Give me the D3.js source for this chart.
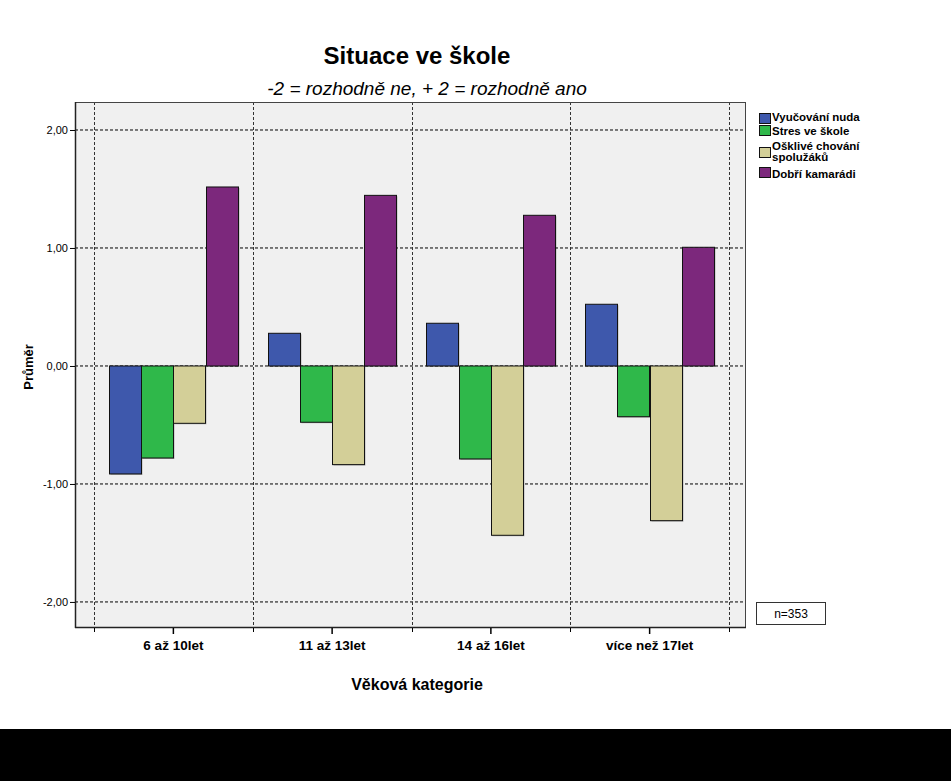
<!DOCTYPE html>
<html><head><meta charset="utf-8">
<script src="https://cdn.jsdelivr.net/npm/d3@7"></script>
<style>body{margin:0;background:#fff;}svg{display:block;font-family:"Liberation Sans",Arial,sans-serif;}</style>
</head><body>
<script>
const categories = ["6 až 10let", "11 až 13let", "14 až 16let", "více než 17let"];
const seriesNames = ["Vyučování nuda", "Stres ve škole", "Ošklivé chování spolužáků", "Dobří kamarádi"];
const legendLabels = [["Vyučování nuda"], ["Stres ve škole"], ["Ošklivé chování", "spolužáků"], ["Dobří kamarádi"]];
const vyucovaniNuda = [-0.915, 0.277, 0.362, 0.523];
const stresVeSkole = [-0.78, -0.477, -0.788, -0.43];
const osklivеChovani = [-0.486, -0.836, -1.435, -1.311];
const dobriKamaradi = [1.517, 1.446, 1.277, 1.006];
const seriesValues = [vyucovaniNuda, stresVeSkole, osklivеChovani, dobriKamaradi];
const colors = ["#3e58ac", "#2fb84a", "#d3cf98", "#7c287c"];
const yTicks = [-2, -1, 0, 1, 2];

const W = 951, H = 781;
const svg = d3.select("body").append("svg").attr("width", W).attr("height", H);
svg.append("rect").attr("width", W).attr("height", H).attr("fill", "#fff");
svg.append("rect").attr("x", 0).attr("y", 729).attr("width", W).attr("height", H - 729).attr("fill", "#000");

const plot = {left: 75, right: 746, top: 102, bottom: 628};
const y = d3.scaleLinear().domain([-2.225, 2.233]).range([plot.bottom, plot.top]);
const x0 = d3.scaleBand().domain(categories).range([94, 729]).padding(0);
const x1 = d3.scaleBand().domain(seriesNames).range([0, x0.bandwidth()]).paddingInner(0).paddingOuter(0.46);

svg.append("rect").attr("x", plot.left).attr("y", plot.top)
  .attr("width", plot.right - plot.left).attr("height", plot.bottom - plot.top)
  .attr("fill", "#f0f0f0");

// grid
const g = svg.append("g");
g.selectAll("line.h").data(yTicks).join("line")
  .attr("x1", plot.left).attr("x2", plot.right)
  .attr("y1", d => y(d) + 0.5).attr("y2", d => y(d) + 0.5)
  .attr("stroke", "#000").attr("stroke-dasharray", "3,2").attr("stroke-width", 1);
const bounds = categories.map(c => x0(c)).concat([x0(categories[categories.length-1]) + x0.bandwidth()]);
g.selectAll("line.v").data(bounds).join("line")
  .attr("x1", d => Math.round(d) + 0.5).attr("x2", d => Math.round(d) + 0.5)
  .attr("y1", plot.top).attr("y2", plot.bottom)
  .attr("stroke", "#333").attr("stroke-dasharray", "3,2").attr("stroke-width", 1);

// bars
const barsData = [];
categories.forEach((c, i) => seriesNames.forEach((s, j) => barsData.push({c, s, j, v: seriesValues[j][i]})));
const bx = d => Math.round(x0(d.c) + x1(d.s));
const bw = Math.round(x1.bandwidth());
svg.append("g").selectAll("rect").data(barsData).join("rect")
  .attr("x", d => bx(d) + 1.5).attr("y", d => Math.min(y(d.v), y(0)) + 1.5)
  .attr("width", bw).attr("height", d => Math.abs(y(d.v) - y(0)))
  .attr("fill", "rgba(0,0,0,0.25)");
svg.append("g").selectAll("rect").data(barsData).join("rect")
  .attr("x", d => bx(d) + 0.5).attr("y", d => Math.min(y(d.v), y(0)) + 0.5)
  .attr("width", bw).attr("height", d => Math.abs(y(d.v) - y(0)))
  .attr("fill", d => colors[d.j]).attr("stroke", "#111").attr("stroke-width", 1);

// frame
svg.append("rect").attr("x", plot.left + 0.5).attr("y", plot.top + 0.5)
  .attr("width", plot.right - plot.left - 1).attr("height", plot.bottom - plot.top - 1)
  .attr("fill", "none").attr("stroke", "#444").attr("stroke-width", 1);
svg.append("line").attr("x1", plot.left + 0.5).attr("x2", plot.left + 0.5).attr("y1", plot.top).attr("y2", plot.bottom)
  .attr("stroke", "#222").attr("stroke-width", 1.5);
svg.append("line").attr("x1", plot.left).attr("x2", plot.right).attr("y1", plot.bottom - 0.5).attr("y2", plot.bottom - 0.5)
  .attr("stroke", "#222").attr("stroke-width", 1.5);

// y axis
const yAxis = d3.axisLeft(y).tickValues(yTicks).tickSize(5).tickPadding(2)
  .tickFormat(d => d3.format(".2f")(d).replace(".", ",").replace("−", "-"));
const ya = svg.append("g").attr("transform", `translate(${plot.left},0.5)`).call(yAxis);
ya.select(".domain").remove();
ya.selectAll("text").attr("font-size", 11).attr("fill", "#000").attr("font-family", "Liberation Sans, Arial");
ya.selectAll("line").attr("stroke", "#000");

// x axis
const xAxis = d3.axisBottom(x0).tickSize(6).tickPadding(6);
const xa = svg.append("g").attr("transform", `translate(0,${plot.bottom})`).call(xAxis);
xa.select(".domain").remove();
xa.selectAll("text").attr("font-size", 13.5).attr("font-weight", "bold").attr("fill", "#000").attr("font-family", "Liberation Sans, Arial");
xa.selectAll("line").attr("stroke", "#000").attr("stroke-width", 1.5);
svg.append("g").selectAll("line").data(bounds).join("line")
  .attr("x1", d => Math.round(d) + 0.5).attr("x2", d => Math.round(d) + 0.5)
  .attr("y1", plot.bottom).attr("y2", plot.bottom + 4).attr("stroke", "#000");

// titles
svg.append("text").attr("x", 417).attr("y", 64).attr("text-anchor", "middle")
  .attr("font-size", 24).attr("font-weight", "bold").text("Situace ve škole");
svg.append("text").attr("x", 427).attr("y", 95).attr("text-anchor", "middle")
  .attr("font-size", 19).attr("font-style", "italic").text("-2 = rozhodně ne, + 2 = rozhodně ano");
svg.append("text").attr("x", 417).attr("y", 690).attr("text-anchor", "middle")
  .attr("font-size", 16).attr("font-weight", "bold").text("Věková kategorie");
svg.append("text").attr("transform", `translate(33,367) rotate(-90)`).attr("text-anchor", "middle")
  .attr("font-size", 13).attr("font-weight", "bold").text("Průměr");

// legend
const legY = [113, 125, 147, 167];
const legBase = [[120.5], [135], [150, 161], [177.5]];
const leg = svg.append("g");
seriesNames.forEach((s, i) => {
  leg.append("rect").attr("x", 759.5).attr("y", legY[i] + 0.5).attr("width", 11).attr("height", 10)
    .attr("fill", colors[i]).attr("stroke", "#111");
  const t = leg.append("text").attr("font-size", 11.5).attr("font-weight", "bold").attr("fill", "#000");
  legendLabels[i].forEach((l, k) => t.append("tspan").attr("x", 772).attr("y", legBase[i][k]).text(l));
});

// n box
svg.append("rect").attr("x", 756.5).attr("y", 602.5).attr("width", 69).attr("height", 22)
  .attr("fill", "#fff").attr("stroke", "#333");
svg.append("text").attr("x", 791).attr("y", 618).attr("text-anchor", "middle").attr("font-size", 12).text("n=353");
</script>
</body></html>
